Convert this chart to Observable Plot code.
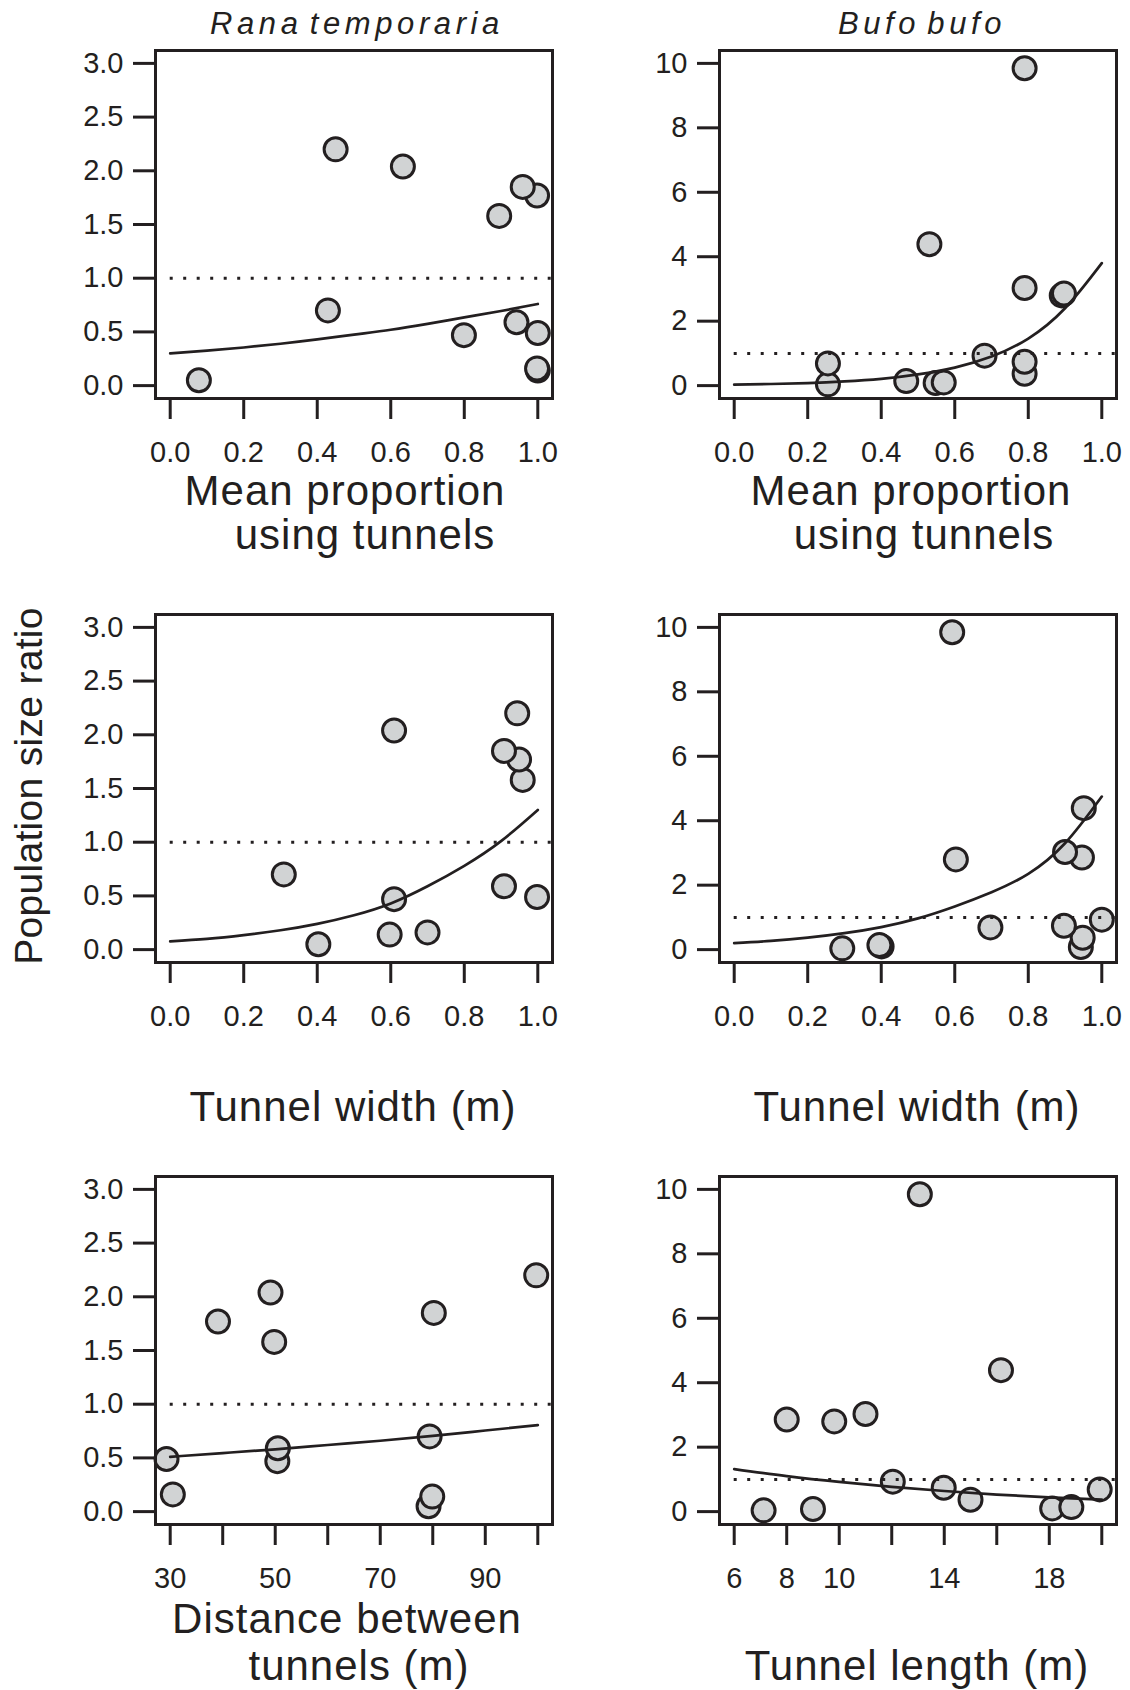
<!DOCTYPE html>
<html><head><meta charset="utf-8">
<script src="https://cdn.jsdelivr.net/npm/d3@7"></script>
<script src="https://cdn.jsdelivr.net/npm/@observablehq/plot@0.6"></script>
<style>
html,body{margin:0;padding:0;background:#fff;}
#page{position:relative;width:1130px;height:1690px;overflow:hidden;background:#fff;}
#titles{position:absolute;left:0;top:0;pointer-events:none;}
</style></head><body><div id="page"></div>
<script>
// ---- Data ----
// Rana temporaria: population size ratio per site
const ranaRatio = [0.05, 0.14, 0.16, 0.47, 0.49, 0.59, 0.70, 1.58, 1.77, 1.85, 2.04, 2.20];
const ranaProportion = [0.078, 1.0, 0.998, 0.799, 1.0, 0.942, 0.429, 0.895, 0.998, 0.959, 0.633, 0.45];
const ranaWidth = [0.403, 0.597, 0.70, 0.609, 0.998, 0.908, 0.309, 0.959, 0.949, 0.908, 0.609, 0.944];
const ranaDistance = [79.2, 79.9, 30.5, 50.4, 29.3, 50.5, 79.4, 49.8, 39.1, 80.2, 49.1, 99.7];

// Bufo bufo: population size ratio per site
const bufoRatio = [0.04, 0.08, 0.10, 0.14, 0.37, 0.69, 0.74, 0.93, 2.80, 2.86, 3.03, 4.39, 9.85];
const bufoProportion = [0.255, 0.548, 0.570, 0.468, 0.79, 0.255, 0.79, 0.681, 0.891, 0.897, 0.79, 0.531, 0.79];
const bufoWidth = [0.294, 0.943, 0.401, 0.395, 0.948, 0.697, 0.897, 1.0, 0.603, 0.946, 0.90, 0.951, 0.593];
const bufoLength = [7.12, 9.0, 18.11, 18.84, 15.0, 19.92, 13.98, 12.04, 9.81, 8.0, 11.0, 16.16, 13.07];

// Fitted curves
const fitPropX = [0, 0.1, 0.2, 0.3, 0.4, 0.5, 0.6, 0.7, 0.8, 0.9, 1.0];
const ranaPropFit = [0.30, 0.325, 0.355, 0.39, 0.43, 0.475, 0.52, 0.575, 0.635, 0.695, 0.76];
const bufoPropFit = [0.03, 0.05, 0.08, 0.13, 0.21, 0.35, 0.56, 0.90, 1.46, 2.40, 3.80];
const fitWidthX = [0, 0.1, 0.2, 0.3, 0.4, 0.5, 0.6, 0.7, 0.8, 0.9, 1.0];
const ranaWidthFit = [0.077, 0.10, 0.135, 0.18, 0.24, 0.32, 0.43, 0.59, 0.78, 1.01, 1.30];
const bufoWidthFit = [0.20, 0.27, 0.37, 0.51, 0.70, 0.97, 1.34, 1.78, 2.35, 3.30, 4.75];
const fitDistX = [30, 40, 50, 60, 70, 80, 90, 100];
const ranaDistFit = [0.51, 0.545, 0.58, 0.62, 0.66, 0.705, 0.755, 0.805];
const fitLenX = [6, 8, 10, 12, 14, 16, 18, 20];
const bufoLenFit = [1.32, 1.10, 0.92, 0.77, 0.64, 0.53, 0.44, 0.37];

// Ticks and labels
const ranaYTicks = [0, 0.5, 1, 1.5, 2, 2.5, 3];
const bufoYTicks = [0, 2, 4, 6, 8, 10];
const propTicks = [0, 0.2, 0.4, 0.6, 0.8, 1];
const distTicks = [30, 40, 50, 60, 70, 80, 90, 100];
const distLabels = [30, 50, 70, 90];
const lenTicks = [6, 8, 10, 12, 14, 16, 18, 20];
const lenLabels = [6, 8, 10, 14, 18];

// ---- Drawing ----
const INK = "#231f20", FILL = "#d1d3d4";
const FONT = "'Liberation Sans', Arimo, Arial, Helvetica, sans-serif";
const BOX_H = 348, MT = 10, MB = 110, ML = 155, MR = 13, W = 565;
const page = document.getElementById("page");

function ext(a, b) { const d = (b - a) * 0.04; return [a - d, b + d]; }

function panel({left, boxTop, xs, ys, fitX, fitY, xRange, yRange, xTicks, xLabels, xFmt, yTicks, yFmt}) {
  const pts = xs.map((x, i) => ({x, y: ys[i]}));
  const fit = fitX.map((x, i) => ({x, y: fitY[i]}));
  const xDomain = ext(xRange[0], xRange[1]);
  const yDomain = ext(yRange[0], yRange[1]);
  const svg = Plot.plot({
    width: W, height: MT + BOX_H + MB,
    marginLeft: ML, marginRight: MR, marginTop: MT, marginBottom: MB,
    x: {domain: xDomain}, y: {domain: yDomain},
    style: {fontFamily: FONT, fontSize: "29px", color: INK, background: "transparent", overflow: "visible"},
    marks: [
      Plot.axisY({ticks: yTicks, tickSize: 22, tickPadding: 10, tickFormat: yFmt, strokeWidth: 3, label: null, fontSize: 29}),
      Plot.axisX({ticks: xTicks, tickSize: 21, tickPadding: 22,
        tickFormat: d => xLabels.includes(d) ? xFmt(d) : "", strokeWidth: 3, label: null, fontSize: 29}),
      Plot.dot(pts, {x: "x", y: "y", r: 11.5, fill: FILL, stroke: INK, strokeWidth: 3}),
      Plot.ruleY([1], {x1: xRange[0], x2: xDomain[1], stroke: INK, strokeWidth: 3, strokeDasharray: "3,10.5"}),
      Plot.line(fit, {x: "x", y: "y", curve: "natural", stroke: INK, strokeWidth: 2.7}),
      Plot.frame({stroke: INK, strokeWidth: 3})
    ]
  });
  svg.style.position = "absolute";
  svg.style.left = left + "px";
  svg.style.top = (boxTop - MT) + "px";
  page.appendChild(svg);
}

const f1 = d3.format(".1f"), f0 = d3.format("d");
const ROW = [50, 614, 1176];
const COL = [0, 564];

panel({left: COL[0], boxTop: ROW[0], xs: ranaProportion, ys: ranaRatio, fitX: fitPropX, fitY: ranaPropFit,
  xRange: [0, 1], yRange: [0, 3], xTicks: propTicks, xLabels: propTicks, xFmt: f1, yTicks: ranaYTicks, yFmt: f1});
panel({left: COL[1], boxTop: ROW[0], xs: bufoProportion, ys: bufoRatio, fitX: fitPropX, fitY: bufoPropFit,
  xRange: [0, 1], yRange: [0, 10], xTicks: propTicks, xLabels: propTicks, xFmt: f1, yTicks: bufoYTicks, yFmt: f0});
panel({left: COL[0], boxTop: ROW[1], xs: ranaWidth, ys: ranaRatio, fitX: fitWidthX, fitY: ranaWidthFit,
  xRange: [0, 1], yRange: [0, 3], xTicks: propTicks, xLabels: propTicks, xFmt: f1, yTicks: ranaYTicks, yFmt: f1});
panel({left: COL[1], boxTop: ROW[1], xs: bufoWidth, ys: bufoRatio, fitX: fitWidthX, fitY: bufoWidthFit,
  xRange: [0, 1], yRange: [0, 10], xTicks: propTicks, xLabels: propTicks, xFmt: f1, yTicks: bufoYTicks, yFmt: f0});
panel({left: COL[0], boxTop: ROW[2], xs: ranaDistance, ys: ranaRatio, fitX: fitDistX, fitY: ranaDistFit,
  xRange: [30, 100], yRange: [0, 3], xTicks: distTicks, xLabels: distLabels, xFmt: f0, yTicks: ranaYTicks, yFmt: f1});
panel({left: COL[1], boxTop: ROW[2], xs: bufoLength, ys: bufoRatio, fitX: fitLenX, fitY: bufoLenFit,
  xRange: [6, 20], yRange: [0, 10], xTicks: lenTicks, xLabels: lenLabels, xFmt: f0, yTicks: bufoYTicks, yFmt: f0});

// ---- Titles and axis titles ----
const titles = d3.select(page).append("svg").attr("id", "titles")
  .attr("width", 1130).attr("height", 1690)
  .style("font-family", FONT).attr("fill", INK);

const species = [
  {t: "Rana temporaria", x: 357, y: 34},
  {t: "Bufo bufo", x: 922, y: 34}
];
titles.selectAll("text.sp").data(species).join("text").attr("class", "sp")
  .attr("x", d => d.x).attr("y", d => d.y).attr("text-anchor", "middle")
  .style("font-size", "31px").style("font-style", "italic")
  .style("letter-spacing", "4.6px").style("word-spacing", "-6px")
  .text(d => d.t);

const axisTitles = [
  {t: "Mean proportion", x: 345, y: 505},
  {t: "using tunnels", x: 365, y: 549},
  {t: "Mean proportion", x: 911, y: 505},
  {t: "using tunnels", x: 924, y: 549},
  {t: "Tunnel width (m)", x: 353, y: 1121},
  {t: "Tunnel width (m)", x: 917, y: 1121},
  {t: "Distance between", x: 347, y: 1633},
  {t: "tunnels (m)", x: 359, y: 1680},
  {t: "Tunnel length (m)", x: 917, y: 1680}
];
titles.selectAll("text.ax").data(axisTitles).join("text").attr("class", "ax")
  .attr("x", d => d.x).attr("y", d => d.y).attr("text-anchor", "middle")
  .style("font-size", "42px").style("letter-spacing", "1px")
  .text(d => d.t);

titles.append("text")
  .attr("transform", "translate(42,786) rotate(-90)")
  .attr("text-anchor", "middle")
  .style("font-size", "39px").style("letter-spacing", "0.3px")
  .text("Population size ratio");
</script>
</body></html>
